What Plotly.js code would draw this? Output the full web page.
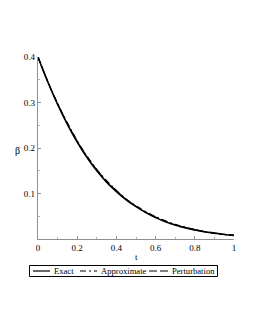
<!DOCTYPE html>
<html><head><meta charset="utf-8">
<script src="https://cdn.plot.ly/plotly-3.0.1.min.js"></script>
<style>html,body{margin:0;padding:0;background:#fff}#chart{width:255px;height:330px}</style>
</head><body><div id="chart"></div>
<script>
var tValues = [0, 0.05, 0.1, 0.15, 0.2, 0.25, 0.3, 0.35, 0.4, 0.45, 0.5, 0.55, 0.6, 0.65, 0.7, 0.75, 0.8, 0.85, 0.9, 0.95, 1.0];
var exactValues = [0.400, 0.345, 0.296, 0.252, 0.213, 0.179, 0.150, 0.125, 0.104, 0.086, 0.071, 0.058, 0.047, 0.038, 0.031, 0.025, 0.020, 0.016, 0.013, 0.010, 0.008];
var approxValues = [0.400, 0.346, 0.298, 0.255, 0.216, 0.182, 0.153, 0.128, 0.107, 0.088, 0.073, 0.060, 0.049, 0.040, 0.032, 0.026, 0.021, 0.016, 0.013, 0.010, 0.008];
var pertValues = [0.400, 0.346, 0.297, 0.254, 0.215, 0.181, 0.152, 0.127, 0.106, 0.087, 0.072, 0.059, 0.048, 0.039, 0.031, 0.025, 0.020, 0.016, 0.013, 0.010, 0.008];
var seriesNames = ['Exact', 'Approximate', 'Perturbation'];
var xTickVals = [0, 0.2, 0.4, 0.6, 0.8, 1];
var xTickText = ['0', '0.2', '0.4', '0.6', '0.8', '1'];
var yTickVals = [0.1, 0.2, 0.3, 0.4];
var yTickText = ['0.1', '0.2', '0.3', '0.4'];

var font = 'Liberation Serif, Times New Roman, serif';
var traces = [
  {x: tValues, y: exactValues, name: seriesNames[0], mode: 'lines', line: {color: '#000', width: 1.6, shape: 'spline'}},
  {x: tValues, y: approxValues, name: seriesNames[1], mode: 'lines', line: {color: '#000', width: 1.2, dash: '6px,3px,2px,3px', shape: 'spline'}},
  {x: tValues, y: pertValues, name: seriesNames[2], mode: 'lines', line: {color: '#000', width: 1.2, dash: '7px,3px', shape: 'spline'}}
];

function px2x(p){ return (p - 38) / 196; }
function px2y(p){ return (239 - p) / 182; }
var legY = px2y(271);
var shapes = [
  {type: 'rect', xref: 'paper', yref: 'paper', x0: px2x(29.5), x1: px2x(217.5), y0: px2y(276.5), y1: px2y(265.5), line: {color: '#000', width: 1}},
  {type: 'line', xref: 'paper', yref: 'paper', x0: px2x(33), x1: px2x(50), y0: legY, y1: legY, line: {color: '#000', width: 1.2}},
  {type: 'line', xref: 'paper', yref: 'paper', x0: px2x(80), x1: px2x(97), y0: legY, y1: legY, line: {color: '#000', width: 1.2, dash: '6px,3px,2px,3px'}},
  {type: 'line', xref: 'paper', yref: 'paper', x0: px2x(149), x1: px2x(168), y0: legY, y1: legY, line: {color: '#000', width: 1.2, dash: '8px,3px'}}
];
var annotations = [
  {text: seriesNames[0], xref: 'paper', yref: 'paper', x: px2x(52), y: legY, xanchor: 'left', yanchor: 'middle', showarrow: false, font: {family: font, size: 8.6, color: '#000'}},
  {text: seriesNames[1], xref: 'paper', yref: 'paper', x: px2x(98.5), y: legY, xanchor: 'left', yanchor: 'middle', showarrow: false, font: {family: font, size: 8.6, color: '#000'}},
  {text: seriesNames[2], xref: 'paper', yref: 'paper', x: px2x(170), y: legY, xanchor: 'left', yanchor: 'middle', showarrow: false, font: {family: font, size: 8.6, color: '#000'}},
  {text: 'β', xref: 'paper', yref: 'paper', x: px2x(17), y: px2y(150), xanchor: 'center', yanchor: 'middle', showarrow: false, font: {family: font, size: 10, color: '#000'}},
  {text: 't', xref: 'paper', yref: 'paper', x: px2x(136), y: px2y(257), xanchor: 'center', yanchor: 'middle', showarrow: false, font: {family: font, size: 9, color: '#000'}}
];

var layout = {
  width: 255, height: 330,
  margin: {l: 38, r: 21, t: 57, b: 91},
  paper_bgcolor: '#fff', plot_bgcolor: '#fff',
  showlegend: false,
  font: {family: font, size: 9, color: '#000'},
  xaxis: {range: [0, 1], tickvals: xTickVals, ticktext: xTickText, showgrid: false, zeroline: false,
    showline: true, linecolor: '#909090', linewidth: 1.3, ticks: 'inside', ticklen: 3, tickcolor: '#909090',
    minor: {dtick: 0.1, ticks: 'inside', ticklen: 2, tickcolor: '#b0b0b0'},
    tickfont: {family: font, size: 9, color: '#000'}, fixedrange: true},
  yaxis: {range: [0, 0.4], tickvals: yTickVals, ticktext: yTickText, showgrid: false, zeroline: false,
    showline: true, linecolor: '#909090', linewidth: 1.3, ticks: 'inside', ticklen: 3, tickcolor: '#909090',
    minor: {dtick: 0.05, ticks: 'inside', ticklen: 2, tickcolor: '#b0b0b0'},
    tickfont: {family: font, size: 9, color: '#000'}, fixedrange: true},
  shapes: shapes,
  annotations: annotations
};
Plotly.newPlot('chart', traces, layout, {displayModeBar: false, staticPlot: true});
</script></body></html>
